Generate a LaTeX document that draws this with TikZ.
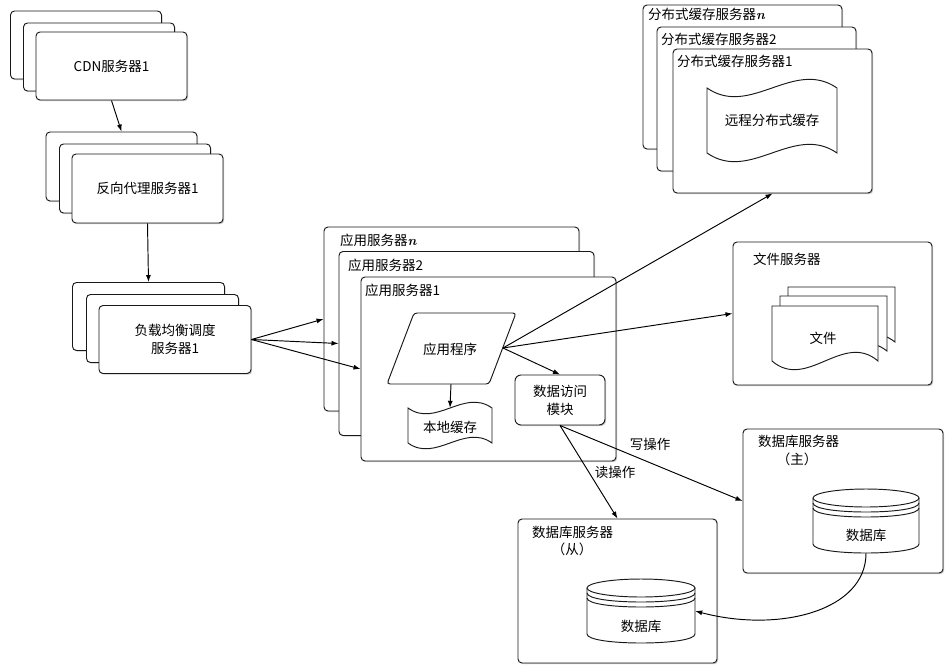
\documentclass[tikz,border=0pt]{standalone}
\usepackage{fontspec}
\newfontfamily\cjk{Noto Sans CJK SC}
\usetikzlibrary{arrows.meta,shadows}
\begin{document}
\begin{tikzpicture}[x=1pt,y=-1pt,
  font=\cjk\fontsize{13.5}{18}\selectfont,
  every node/.style={inner sep=0pt},
  shp/.style={draw=black!90, line width=0.95pt, fill=white},
  box/.style={shp, rounded corners=4pt, drop shadow={shadow xshift=1.2pt, shadow yshift=-1.2pt, fill=black!30, opacity=0.7}},
  cdnbox/.style={box, minimum width=151pt, minimum height=68pt},
  rpbox/.style={box, minimum width=151pt, minimum height=69pt},
  lbbox/.style={box, minimum width=152pt, minimum height=68pt, align=center},
  appbox/.style={box, minimum width=255pt, minimum height=184pt},
  dcbox/.style={box, minimum width=199pt, minimum height=144pt},
  srvbox/.style={box, minimum width=199pt, minimum height=144pt},
  lbl/.style={anchor=west},
  arr/.style={draw=black, line width=0.95pt, -{Latex[length=7pt,width=5pt]}},
]
\useasboundingbox (0,0) rectangle (952,670);

% CDN stack
\node[cdnbox] (cdn3) at (86,45) {};
\node[cdnbox] (cdn2) at (99,57) {};
\node[cdnbox] (cdn1) at (111.5,66) {CDN服务器1};

% reverse proxy stack
\node[rpbox] (rp3) at (121.5,166.5) {};
\node[rpbox] (rp2) at (135,178.5) {};
\node[rpbox] (rp1) at (147.5,188.5) {反向代理服务器1};

% load balancer stack
\node[lbbox] (lb3) at (148.5,316.5) {};
\node[lbbox] (lb2) at (162.5,328.5) {};
\node[lbbox] (lb1) at (175,339.5) {负载均衡调度\\服务器1};

% application servers
\node[appbox] (appn) at (451.5,319) {};
\node[lbl] (appnl) at (340,240) {应用服务器{\normalfont\bfseries\itshape n}};
\node[appbox] (app2) at (466.5,343.5) {};
\node[lbl] (app2l) at (348,265) {应用服务器2};
\node[appbox] (app1) at (488.5,369) {};
\node[lbl] (app1l) at (365,290) {应用服务器1};

% application program (parallelogram)
\draw[shp, rounded corners=3pt] (414,313) -- (516,313) -- (489,384) -- (387,384) -- cycle;
\node (prog) at (450,349) {应用程序};
\coordinate (progR) at (503,348);
\coordinate (progB) at (451,384);

% local cache (tape)
\draw[shp] (408,408) .. controls (436,428) and (464,388) .. (492,408) -- (492,443)
  .. controls (464,423) and (436,463) .. (408,443) -- cycle;
\node[minimum width=84pt, minimum height=35pt] (lc) at (450,425.5) {};
\node (lct) at (450,427) {本地缓存};

% data access module
\node[box, rounded corners=6pt, minimum width=90pt, minimum height=50pt, align=center] (da) at (560,400) {数据访问\\模块};

% distributed cache servers
\node[dcbox] (dcn) at (742.5,77) {};
\node[lbl] (dcnl) at (648,14) {分布式缓存服务器{\normalfont\bfseries\itshape n}};
\node[dcbox] (dc2) at (756.5,99) {};
\node[lbl] (dc2l) at (661,39) {分布式缓存服务器2};
\node[dcbox] (dc1) at (772.5,121) {};
\node[lbl] (dc1l) at (677,61) {分布式缓存服务器1};
\draw[shp] (707,88) .. controls (750.3,118) and (793.7,58) .. (837,88) -- (837,153)
  .. controls (793.7,123) and (750.3,183) .. (707,153) -- cycle;
\node (rc) at (772,120) {远程分布式缓存};

% file server
\node[srvbox, minimum height=143pt] (fs) at (832.5,313.5) {};
\node[lbl] (fsl) at (753,259) {文件服务器};
\draw[shp] (788,287) -- (895,287) -- (895,342) .. controls (859,314) and (824,370) .. (788,342) -- cycle;
\draw[shp] (780,296) -- (887,296) -- (887,351) .. controls (851,323) and (816,379) .. (780,351) -- cycle;
\draw[shp] (772,306) -- (878,306) -- (878,361) .. controls (843,331) and (807,391) .. (772,361) -- cycle;
\node (doc) at (823,338) {文件};

% database master
\node[srvbox, minimum width=200pt] (dbm) at (843,501) {};
\node[lbl] (dbml) at (758,441) {数据库服务器};
\node (dbmz) at (797,459) {（主）};
\draw[shp] (813,498) -- (813,544) .. controls (813,556) and (919,556) .. (919,544) -- (919,498);
\draw[shp] (866,498) ellipse [x radius=53, y radius=9];
\draw[shp, fill=none] (813,503) .. controls (813,515) and (919,515) .. (919,503);
\draw[shp, fill=none] (813,508) .. controls (813,520) and (919,520) .. (919,508);
\node[minimum width=106pt, minimum height=64pt] (dbmc) at (866,521) {};
\node (dbmt) at (866,535) {数据库};

% database slave
\node[srvbox] (dbs) at (617.5,591) {};
\node[lbl] (dbsl) at (532,532) {数据库服务器};
\node (dbsz) at (572,549) {（从）};
\draw[shp] (587,588) -- (587,634) .. controls (587,646) and (695,646) .. (695,634) -- (695,588);
\draw[shp] (641,588) ellipse [x radius=54, y radius=9];
\draw[shp, fill=none] (587,593) .. controls (587,605) and (695,605) .. (695,593);
\draw[shp, fill=none] (587,598) .. controls (587,610) and (695,610) .. (695,598);
\node[minimum width=108pt, minimum height=64pt] (dbsc) at (641,611) {};
\node (dbst) at (641,626) {数据库};

% connectors
\draw[arr] (cdn1.south) -- (rp3.north);
\draw[arr] (rp1.south) -- (lb3.north);
\draw[arr] (lb1.east) -- (appn.west);
\draw[arr] (lb1.east) -- (app2.west);
\draw[arr] (lb1.east) -- (app1.west);
\draw[arr] (progB) -- (lc.north);
\draw[arr] (progR) -- (da.north);
\draw[arr] (progR) -- (dc1.south);
\draw[arr] (progR) -- (fs.west);
\draw[arr] (da.south) -- (dbm.west);
\draw[arr] (da.south) -- (dbs.north);
\draw[arr] (dbmc.south) .. controls +(0,58) and +(83,22) .. (dbsc.east);

\node (wlab) at (650,444) {写操作};
\node (rlab) at (615,472) {读操作};
\end{tikzpicture}
\end{document}
